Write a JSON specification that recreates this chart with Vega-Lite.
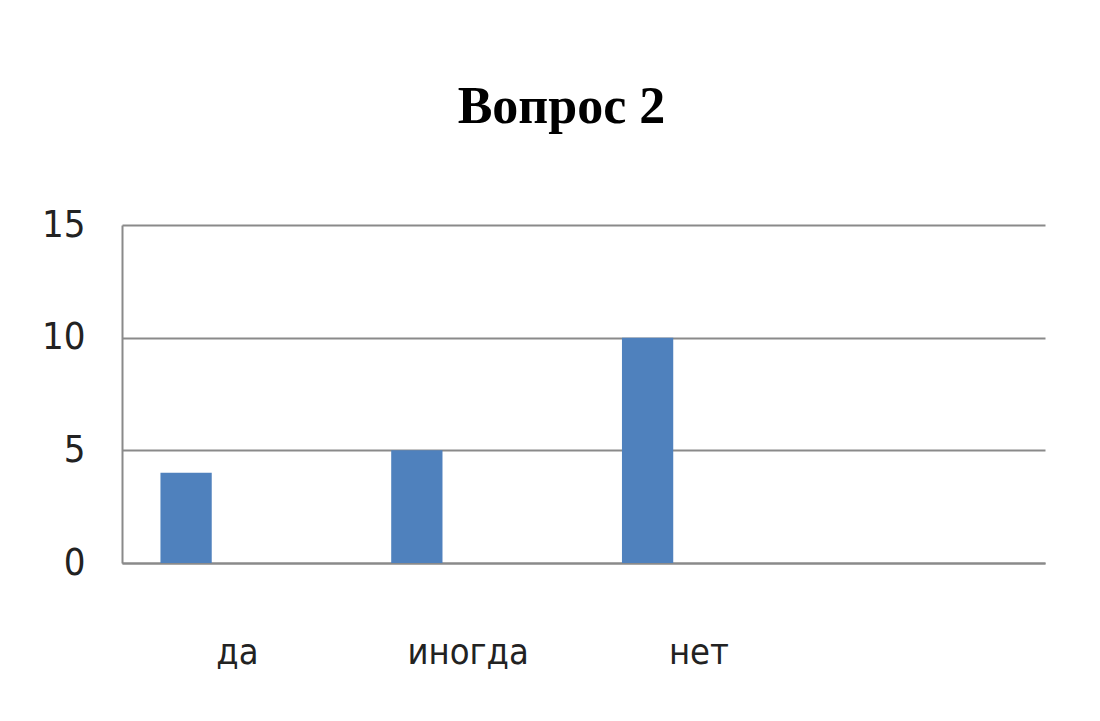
{
  "$schema": "https://vega.github.io/schema/vega-lite/v6.json",
  "autosize": {"type": "none"},
  "padding": {"left": 122, "top": 225, "right": 55, "bottom": 158},
  "width": 923,
  "height": 338,
  "background": "white",
  "title": {
    "text": "Вопрос 2",
    "font": "Liberation Serif",
    "fontSize": 52,
    "fontWeight": "bold",
    "color": "black",
    "anchor": "middle",
    "frame": "group",
    "dx": -22,
    "offset": 72
  },
  "data": {
    "values": [
      {"answer": "да", "series": "1", "count": 4},
      {"answer": "иногда", "series": "1", "count": 5},
      {"answer": "нет", "series": "1", "count": 10}
    ]
  },
  "mark": {"type": "bar", "color": "#4F81BD"},
  "encoding": {
    "x": {
      "field": "answer",
      "type": "nominal",
      "sort": null,
      "scale": {"domain": ["да", "иногда", "нет", "пусто"], "paddingInner": 0, "paddingOuter": 0},
      "axis": {
        "title": null,
        "labelAngle": 0,
        "labelExpr": "datum.value == 'пусто' ? '' : datum.value",
        "labelFont": "Liberation Sans Narrow, DejaVu Sans Condensed, Liberation Sans",
        "labelFontSize": 36,
        "labelColor": "#222222",
        "labelBaseline": "alphabetic",
        "labelPadding": 100,
        "ticks": false,
        "domain": true,
        "domainColor": "#8a8a8a",
        "domainWidth": 2,
        "grid": false
      }
    },
    "xOffset": {
      "field": "series",
      "type": "nominal",
      "scale": {"domain": ["1", "2", "3"], "paddingInner": 0, "paddingOuter": 0.75}
    },
    "y": {
      "field": "count",
      "type": "quantitative",
      "scale": {"domain": [0, 15], "nice": false},
      "axis": {
        "title": null,
        "values": [0, 5, 10, 15],
        "labelFont": "Liberation Sans Narrow, DejaVu Sans Condensed, Liberation Sans",
        "labelFontSize": 38,
        "labelColor": "#222222",
        "labelPadding": 37,
        "ticks": false,
        "domain": true,
        "domainColor": "#8a8a8a",
        "domainWidth": 2,
        "grid": true,
        "gridColor": "#8a8a8a",
        "gridWidth": 2
      }
    }
  },
  "config": {"view": {"stroke": null}}
}
